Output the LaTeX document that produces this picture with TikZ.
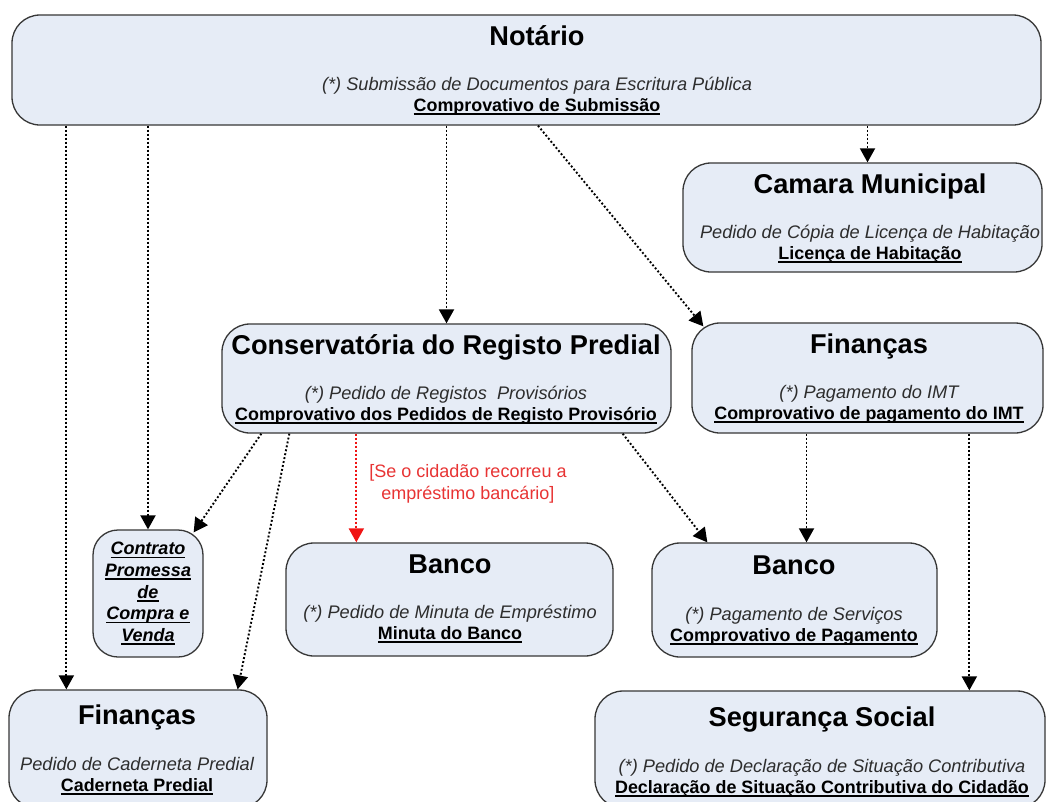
\documentclass[tikz,border=0pt]{standalone}
\usepackage{fontspec}
\setmainfont{Liberation Sans}
\usetikzlibrary{arrows.meta,calc}

\definecolor{boxfill}{RGB}{230,236,246}
\definecolor{boxline}{RGB}{55,55,55}
\definecolor{notegray}{RGB}{45,45,45}
\definecolor{condred}{RGB}{232,52,52}
\definecolor{flowred}{RGB}{240,20,20}

% thick underline used for the document names
\newcommand\ulbox[1]{\setbox0=\hbox{#1}\rlap{\rule[-3.5pt]{\wd0}{1.6pt}}\box0}

\begin{document}
\begin{tikzpicture}[x=1pt,y=-1pt,
  box/.style={draw=boxline, line width=1.3pt, fill=boxfill, rounded corners=28pt, inner sep=0pt},
  ttl/.style={anchor=base, inner sep=0pt, font=\fontsize{27.2}{31}\selectfont\bfseries},
  req/.style={anchor=base, inner sep=0pt, text=notegray, font=\fontsize{18.2}{22}\selectfont\itshape},
  docname/.style={anchor=base, inner sep=0pt, font=\fontsize{17.9}{22}\selectfont\bfseries},
  flow/.style={line width=1.9pt, dash pattern=on 1.9pt off 2.1pt, -{Triangle[width=15pt,length=14pt]}},
  cond/.style={align=center, inner sep=0pt, text=condred, font=\fontsize{18}{22}\selectfont}
]
\useasboundingbox (0,0) rectangle (1049,801);
\fill[white] (0,0) rectangle (1049,801);
\clip (0,0) rectangle (1049,801);

% ---------- boxes ----------
\node[box, minimum width=1029pt, minimum height=110pt] (not)    at (526.5,70) {};
\node[box, minimum width=359pt,  minimum height=109pt] (cam)    at (862.5,217.5) {};
\node[box, minimum width=449pt,  minimum height=109pt] (cons)   at (446.5,378.5) {};
\node[box, minimum width=351pt,  minimum height=110pt] (finR)   at (867.5,378) {};
\node[box, minimum width=110pt,  minimum height=127pt, rounded corners=25pt] (ctr) at (148,593.5) {};
\node[box, minimum width=327pt,  minimum height=113pt] (bancoM) at (449.5,599.5) {};
\node[box, minimum width=285pt,  minimum height=114pt] (bancoR) at (794.5,600) {};
\node[box, minimum width=258pt,  minimum height=118pt] (finbl)  at (138,749) {};
\node[box, minimum width=450pt,  minimum height=117pt] (seg)    at (820,749.5) {};

% ---------- box texts ----------
\node[ttl]     (not-t) at (537,45)  {Notário};
\node[req]     (not-r) at (537,90)  {(*) Submissão de Documentos para Escritura Pública};
\node[docname] (not-d) at (537,111) {\ulbox{Comprovativo de Submissão}};

\node[ttl]     (cam-t) at (870,193) {Camara Municipal};
\node[req]     (cam-r) at (870,238) {Pedido de Cópia de Licença de Habitação};
\node[docname] (cam-d) at (870,259) {\ulbox{Licença de Habitação}};

\node[ttl]     (cons-t) at (446,354) {Conservatória do Registo Predial};
\node[req]     (cons-r) at (446,399) {(*) Pedido de Registos\ \ Provisórios};
\node[docname] (cons-d) at (446,420) {\ulbox{Comprovativo dos Pedidos de Registo Provisório}};

\node[ttl]     (finR-t) at (869,353) {Finanças};
\node[req]     (finR-r) at (869,398) {(*) Pagamento do IMT};
\node[docname] (finR-d) at (869,419) {\ulbox{Comprovativo de pagamento do IMT}};

\node[align=center, inner sep=0pt, font=\fontsize{18}{21.7}\selectfont\bfseries\itshape] (ctr-d) at (ctr.center)
  {\ulbox{Contrato}\\\ulbox{Promessa}\\\ulbox{de}\\\ulbox{Compra e}\\\ulbox{Venda}};

\node[ttl]     (bm-t) at (450,573) {Banco};
\node[req]     (bm-r) at (450,618) {(*) Pedido de Minuta de Empréstimo};
\node[docname] (bm-d) at (450,639) {\ulbox{Minuta do Banco}};

\node[ttl]     (br-t) at (794,574) {Banco};
\node[req]     (br-r) at (794,620) {(*) Pagamento de Serviços};
\node[docname] (br-d) at (794,641) {\ulbox{Comprovativo de Pagamento}};

\node[ttl]     (fb-t) at (137,724) {Finanças};
\node[req]     (fb-r) at (137,770) {Pedido de Caderneta Predial};
\node[docname] (fb-d) at (137,791) {\ulbox{Caderneta Predial}};

\node[ttl]     (seg-t) at (822,726) {Segurança Social};
\node[req]     (seg-r) at (822,772) {(*) Pedido de Declaração de Situação Contributiva};
\node[docname] (seg-d) at (822,793) {\ulbox{Declaração de Situação Contributiva do Cidadão}};

% ---------- condition label ----------
\node[cond] (cond) at (468,484) {[Se o cidadão recorreu a\\empréstimo bancário]};

% ---------- connectors ----------
\coordinate (p-fb)  at ($(finbl.north west)+(58,0)$);
\coordinate (p-cam) at ($(cam.north)+(5,0)$);
\coordinate (p-bm)  at ($(bancoM.north west)+(71,0)$);
\coordinate (p-br)  at ($(bancoR.north)+(12,0)$);
\coordinate (p-seg) at ($(seg.north west)+(375,0)$);

\draw[flow] (p-fb |- not.south) -- (p-fb);
\draw[flow] (ctr.north |- not.south) -- (ctr.north);
\draw[flow] (cons.north |- not.south) -- (cons.north);
\draw[flow] ($(not.south)+(11.5,0)$) -- ($(finR.north west)+(12,4)$);
\draw[flow] (p-cam |- not.south) -- (p-cam);

\draw[flow] ($(cons.south west)+(40,0)$) -- ($(ctr.north east)+(-10,3)$);
\draw[flow] ($(cons.south west)+(68,0)$) -- ($(finbl.north east)+(-30,0)$);
\draw[flow, color=flowred] (p-bm |- cons.south) -- (p-bm);
\draw[flow] ($(cons.south east)+(-49,0)$) -- ($(bancoR.north west)+(56,0)$);

\draw[flow] (p-br |- finR.south) -- (p-br);
\draw[flow] (p-seg |- finR.south) -- (p-seg);
\end{tikzpicture}
\end{document}
